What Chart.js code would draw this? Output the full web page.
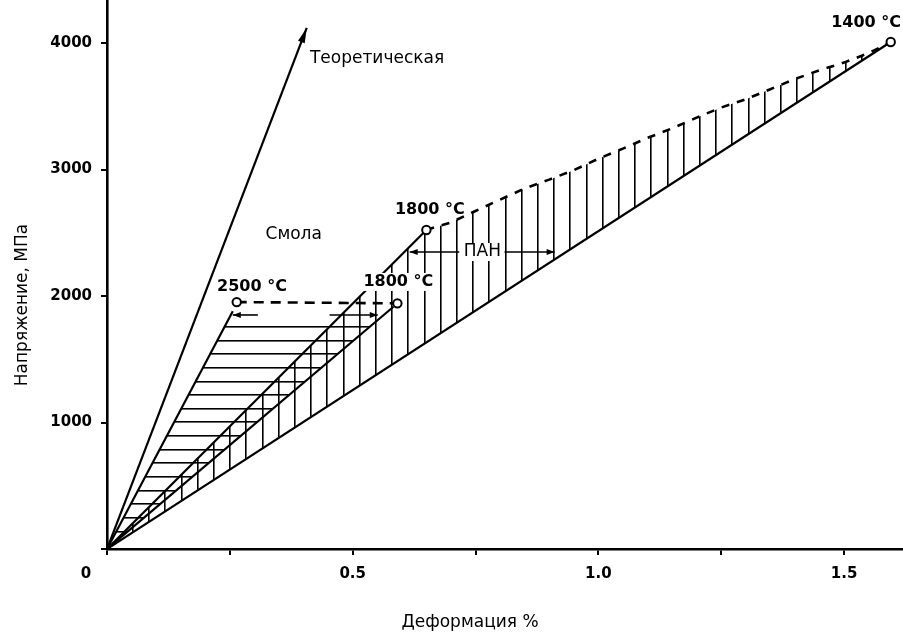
<!DOCTYPE html>
<html>
<head>
<meta charset="utf-8">
<script src="https://cdn.jsdelivr.net/npm/chart.js@4.4.1/dist/chart.umd.min.js"></script>
<style>
  html, body { margin: 0; padding: 0; background: #fff; }
  canvas { display: block; }
</style>
</head>
<body>
<canvas id="chart" width="903" height="635"></canvas>
<script>
// strain (%) against stress (MPa)
const theoretical = [[0, 0], [0.4065, 4119]];
const pitchHigh = [[0, 0], [0.256, 1880]];      // pitch fibre, 2500 °C
const pitchLow = [[0, 0], [0.583, 1915]];       // pitch fibre, 1800 °C
const pitchSpread = [[0.264, 1952], [0.591, 1942]];
const panHigh = [[0, 0], [0.650, 2522]];        // PAN fibre, 1800 °C
const panLow = [[0, 0], [1.595, 4008]];         // PAN fibre, 1400 °C
const panSpread = [
  [0.650, 2522], [0.700, 2582], [0.750, 2672], [0.800, 2762], [0.850, 2850],
  [0.900, 2920], [0.950, 2995], [1.000, 3085], [1.050, 3165], [1.100, 3250],
  [1.150, 3325], [1.200, 3410], [1.250, 3490], [1.300, 3555], [1.350, 3635],
  [1.400, 3715], [1.450, 3785], [1.500, 3845], [1.550, 3920], [1.595, 4008]
];
const pitchArea = [[0, 0], [0.245, 1800], [0.547, 1800]];
const panArea = [[0, 0], ...panSpread];

const tempPoints = [[0.264, 1952], [0.591, 1942], [0.650, 2522], [1.595, 4008]];
const tempLabels = ['2500 °C', '1800 °C', '1800 °C', '1400 °C'];
const tempLabelAt = [[0.295, 2071], [0.593, 2111], [0.657, 2680], [1.545, 4158]];

const pitchArrows = [[0.307, 0.256], [0.453, 0.551]];
const pitchArrowY = 1850;
const panArrows = [[0.717, 0.616], [0.809, 0.911]];
const panArrowY = 2348;

const xTickMarks = [0, 0.25, 0.5, 0.75, 1.0, 1.25, 1.5];
const xTickLabels = ['', '', '0.5', '', '1.0', '', '1.5'];
const yTickMarks = [0, 1000, 2000, 3000, 4000];
const yTickLabels = ['', '1000', '2000', '3000', '4000'];

const pts = arr => arr.map(([x, y]) => ({x, y}));

function hatch(period, count, vertical, offset) {
  const c = document.createElement('canvas');
  const size = Math.round(period * count);
  c.width = vertical ? size : 4;
  c.height = vertical ? 4 : size;
  const g = c.getContext('2d');
  g.fillStyle = '#000';
  for (let i = 0; i < count; i++) {
    const p = Math.round(i * period);
    if (vertical) g.fillRect(p, 0, 1.6, 4);
    else g.fillRect(0, p, 4, 1.6);
  }
  const pat = g.createPattern(c, 'repeat');
  const m = new DOMMatrix();
  pat.setTransform(vertical ? m.translate(offset % size, 0) : m.translate(0, offset % size));
  return pat;
}

const vLines = hatch(16.2, 10, true, 132);
const hLines = hatch(150 / 11, 11, false, 326);

const solid = data => ({
  data: pts(data), showLine: true, borderColor: '#000', borderWidth: 2.2,
  pointRadius: 0, fill: false, order: 1
});
const dashed = (data, dash) => Object.assign(solid(data), {borderDash: dash, borderWidth: 2.6});
const area = (data, pattern) => ({
  data: pts(data), showLine: true, borderWidth: 0, borderColor: 'rgba(0,0,0,0)',
  backgroundColor: pattern, fill: 'shape', pointRadius: 0, order: 3
});

const FONT = '"DejaVu Sans", sans-serif';

function arrowHead(ctx, x1, y1, x2, y2, len, half) {
  const a = Math.atan2(y2 - y1, x2 - x1);
  ctx.beginPath();
  ctx.moveTo(x2, y2);
  ctx.lineTo(x2 - len * Math.cos(a) + half * Math.sin(a), y2 - len * Math.sin(a) - half * Math.cos(a));
  ctx.lineTo(x2 - len * Math.cos(a) - half * Math.sin(a), y2 - len * Math.sin(a) + half * Math.cos(a));
  ctx.closePath();
  ctx.fill();
}

function text(ctx, str, x, y, align, boxed) {
  ctx.textAlign = align || 'center';
  ctx.textBaseline = 'middle';
  if (boxed) {
    const w = ctx.measureText(str).width;
    const left = align === 'left' ? x : x - w / 2;
    ctx.fillStyle = '#fff';
    ctx.fillRect(left - 2, y - 9, w + 4, 18);
  }
  ctx.fillStyle = '#000';
  ctx.fillText(str, x, y);
}

const notes = {
  id: 'notes',
  afterDatasetsDraw(chart) {
    const {ctx, scales: {x, y}} = chart;
    const px = v => x.getPixelForValue(v);
    const py = v => y.getPixelForValue(v);
    ctx.save();
    ctx.fillStyle = '#000';
    ctx.strokeStyle = '#000';

    // arrow tip on the theoretical line
    const [t0, t1] = theoretical;
    arrowHead(ctx, px(t0[0]), py(t0[1]), px(t1[0]), py(t1[1]), 15, 3.6);

    // range arrows
    ctx.lineWidth = 1.6;
    const ranges = [[pitchArrows, pitchArrowY], [panArrows, panArrowY]];
    for (const [list, yv] of ranges) {
      for (const [from, to] of list) {
        ctx.beginPath();
        ctx.moveTo(px(from), py(yv));
        ctx.lineTo(px(to), py(yv));
        ctx.stroke();
        arrowHead(ctx, px(from), py(yv), px(to), py(yv), 8, 3);
      }
    }

    ctx.font = 'bold 16px ' + FONT;
    tempLabels.forEach((s, i) => {
      const [lx, ly] = tempLabelAt[i];
      text(ctx, s, px(lx), py(ly), 'center', i === 1);
    });

    ctx.font = '17px ' + FONT;
    text(ctx, 'Теоретическая', px(0.413), py(3874), 'left');
    text(ctx, 'Смола', px(0.380), py(2482));
    text(ctx, 'ПАН', px(0.764), py(panArrowY), 'center', true);
    ctx.restore();
  },
  afterDraw(chart) {
    const {ctx, chartArea} = chart;
    ctx.save();
    ctx.fillStyle = '#000';
    ctx.font = 'bold 15px ' + FONT;
    text(ctx, '0', chartArea.left - 21, chartArea.bottom + 25);
    ctx.font = '17px ' + FONT;
    text(ctx, 'Деформация %', chartArea.left + 363, chartArea.bottom + 74);
    ctx.translate(23, 305);
    ctx.rotate(-Math.PI / 2);
    text(ctx, 'Напряжение, МПа', 0, 0);
    ctx.restore();
  }
};

const fitBox = (w, h) => scale => {
  if (w) scale.width = w;
  if (h) scale.height = h;
  scale.paddingTop = scale.paddingBottom = scale.paddingLeft = scale.paddingRight = 0;
};
const fixedTicks = marks => scale => {
  scale.ticks = marks.map(value => ({value}));
};

const axisCommon = {
  bounds: 'data',
  border: {color: '#000', width: 2.6},
  grid: {display: true, drawOnChartArea: false, color: '#000', lineWidth: 2, tickLength: 6}
};

new Chart('chart', {
  type: 'scatter',
  data: {
    datasets: [
      {
        data: pts(tempPoints), pointRadius: 4.2, pointBorderWidth: 2,
        pointBackgroundColor: '#fff', pointBorderColor: '#000', order: 0
      },
      solid(theoretical),
      solid(pitchHigh),
      solid(pitchLow),
      solid(panHigh),
      solid(panLow),
      dashed(pitchSpread, [10, 7]),
      dashed(panSpread, [8, 8]),
      area(pitchArea, hLines),
      area(panArea, vLines)
    ]
  },
  options: {
    responsive: false,
    animation: false,
    events: [],
    layout: {padding: 0, autoPadding: false},
    plugins: {legend: {display: false}, tooltip: {enabled: false}},
    scales: {
      x: Object.assign({}, axisCommon, {
        type: 'linear', min: 0, max: 1.62,
        afterBuildTicks: fixedTicks(xTickMarks),
        afterFit: fitBox(0, 86),
        ticks: {
          autoSkip: false, maxRotation: 0, padding: 10, color: '#000',
          font: {family: FONT, size: 15, weight: 'bold'},
          callback: (v, i) => xTickLabels[i]
        }
      }),
      y: Object.assign({}, axisCommon, {
        type: 'linear', min: 0, max: 4340,
        afterBuildTicks: fixedTicks(yTickMarks),
        afterFit: fitBox(107, 0),
        ticks: {
          autoSkip: false, padding: 9, color: '#000',
          font: {family: FONT, size: 15, weight: 'bold'},
          callback: (v, i) => yTickLabels[i]
        }
      })
    }
  },
  plugins: [notes]
});
</script>
</body>
</html>
